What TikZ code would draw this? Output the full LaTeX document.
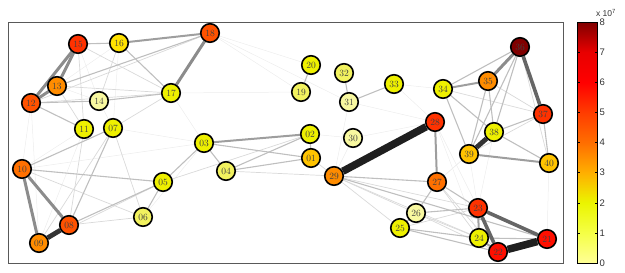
\documentclass[tikz,border=0pt]{standalone}
\usepackage{fontspec}
\newfontfamily\barfont{Liberation Sans}
\usetikzlibrary{backgrounds}

\definecolor{hLight}{RGB}{248,248,160}
\definecolor{hPale}{RGB}{242,242,95}
\definecolor{hYellow}{RGB}{238,240,0}
\definecolor{hGold}{RGB}{255,225,0}
\definecolor{hAmber}{RGB}{255,195,0}
\definecolor{hOrange}{RGB}{255,140,0}
\definecolor{hDeep}{RGB}{255,112,0}
\definecolor{hBurnt}{RGB}{255,82,0}
\definecolor{hRed}{RGB}{255,50,0}
\definecolor{hScarlet}{RGB}{255,15,0}
\definecolor{hMaroon}{RGB}{128,0,0}

\definecolor{cb0}{RGB}{255,255,150}
\definecolor{cb1}{RGB}{245,255,70}
\definecolor{cb2}{RGB}{235,245,0}
\definecolor{cb3}{RGB}{255,175,0}
\definecolor{cb4}{RGB}{255,110,0}
\definecolor{cb5}{RGB}{255,60,0}
\definecolor{cb6}{RGB}{255,0,0}
\definecolor{cb7}{RGB}{232,0,0}
\definecolor{cb8}{RGB}{128,0,0}

\begin{document}
\begin{tikzpicture}[x=1pt,y=-1pt,
  vertex/.style={circle, draw=black, line width=1.6pt, minimum size=18.5pt, inner sep=0pt,
    font=\fontsize{9.5}{10}\selectfont, text=black!75},
  edgefaint/.style={draw=black!7, line width=0.5pt},
  edgelight/.style={draw=black!15, line width=0.7pt},
  edgemid/.style={draw=black!25, line width=1.1pt},
  edgewide/.style={draw=black!38, line width=2pt},
  edgeheavy/.style={draw=black!45, line width=3pt},
  edgegrey/.style={draw=black!60, line width=3.6pt},
  edgedark/.style={draw=black!80, line width=4.8pt},
  edgeblack/.style={draw=black!88, line width=7.5pt},
  barlabel/.style={anchor=west, inner sep=0pt, font=\barfont\fontsize{9.5}{10}\selectfont, text=black!80}]
\useasboundingbox (0,0) rectangle (625,273);
\draw[black!65, line width=0.8pt] (8,22) rectangle (563,263);

\node[vertex, fill=hAmber] (n01) at (311,158) {01};
\node[vertex, fill=hYellow] (n02) at (310,134) {02};
\node[vertex, fill=hYellow] (n03) at (204,143) {03};
\node[vertex, fill=hPale] (n04) at (226,171) {04};
\node[vertex, fill=hYellow] (n05) at (163,182) {05};
\node[vertex, fill=hPale] (n06) at (143,217) {06};
\node[vertex, fill=hYellow] (n07) at (113,128) {07};
\node[vertex, fill=hBurnt] (n08) at (69,225) {08};
\node[vertex, fill=hOrange] (n09) at (39,243) {09};
\node[vertex, fill=hDeep] (n10) at (22,169) {10};
\node[vertex, fill=hYellow] (n11) at (84,129) {11};
\node[vertex, fill=hBurnt] (n12) at (31,103) {12};
\node[vertex, fill=hOrange] (n13) at (57,86) {13};
\node[vertex, fill=hLight] (n14) at (99,101) {14};
\node[vertex, fill=hRed] (n15) at (78,44) {15};
\node[vertex, fill=hGold] (n16) at (119,43) {16};
\node[vertex, fill=hYellow] (n17) at (171,93) {17};
\node[vertex, fill=hBurnt] (n18) at (210,33) {18};
\node[vertex, fill=hPale] (n19) at (301,92) {19};
\node[vertex, fill=hYellow] (n20) at (311,65) {20};
\node[vertex, fill=hScarlet] (n21) at (547,239) {21};
\node[vertex, fill=hScarlet] (n22) at (498,252) {22};
\node[vertex, fill=hRed] (n23) at (478,208) {23};
\node[vertex, fill=hYellow] (n24) at (479,238) {24};
\node[vertex, fill=hYellow] (n25) at (400,228) {25};
\node[vertex, fill=hLight] (n26) at (416,213) {26};
\node[vertex, fill=hDeep] (n27) at (437,182) {27};
\node[vertex, fill=hRed] (n28) at (435,122) {28};
\node[vertex, fill=hOrange] (n29) at (334,176) {29};
\node[vertex, fill=hLight] (n30) at (353,138) {30};
\node[vertex, fill=hLight] (n31) at (349,102) {31};
\node[vertex, fill=hPale] (n32) at (344,73) {32};
\node[vertex, fill=hYellow] (n33) at (394,84) {33};
\node[vertex, fill=hYellow] (n34) at (443,89) {34};
\node[vertex, fill=hOrange] (n35) at (488,81) {35};
\node[vertex, fill=hMaroon] (n36) at (520,47) {36};
\node[vertex, fill=hRed] (n37) at (543,114) {37};
\node[vertex, fill=hYellow] (n38) at (494,132) {38};
\node[vertex, fill=hAmber] (n39) at (469,154) {39};
\node[vertex, fill=hAmber] (n40) at (549,163) {40};

\begin{scope}[on background layer]
\foreach \a/\b in {10/03,12/10,12/09,17/19,18/20,18/19,28/31,28/33,28/30,30/29,31/29,
  28/23,28/24,38/23,39/23,40/21,02/30,14/07,16/07,15/14,13/14,11/09,11/10,03/06,07/03,
  17/03,16/13,18/31,33/34,39/27,38/27}
  \draw[edgefaint] (n\a) -- (n\b);
\foreach \a/\b in {15/11,15/17,16/14,17/07,13/11,11/08,07/09,07/06,10/06,06/08,05/09,
  13/17,12/17,12/18,29/24,29/23,29/25,29/26,27/24,27/22,25/23,26/24,26/22,37/39,35/37,
  36/40,34/37,05/02,01/29,04/29}
  \draw[edgelight] (n\a) -- (n\b);
\foreach \a/\b in {15/16,16/17,12/14,14/17,12/11,03/05,03/04,03/01,04/02,04/01,01/02,
  05/08,05/06,10/05,10/07,07/08,19/20,31/32,31/33,29/27,29/21,26/27,25/26,25/24,26/23,
  27/23,34/38,34/39,35/38,35/39,36/38,36/39,37/38,37/40,38/40,36/34,24/21,25/22,13/18}
  \draw[edgemid] (n\a) -- (n\b);
\foreach \a/\b in {27/28,02/03,39/40,34/35,23/24,24/22,16/18}
  \draw[edgewide] (n\a) -- (n\b);
\foreach \a/\b in {12/15,13/15,12/13,18/17,10/09,10/08,36/35}
  \draw[edgeheavy] (n\a) -- (n\b);
\foreach \a/\b in {36/37,23/21,23/22}
  \draw[edgegrey] (n\a) -- (n\b);
\foreach \a/\b in {08/09,38/39}
  \draw[edgedark] (n\a) -- (n\b);
\foreach \a/\b in {28/29,21/22}
  \draw[edgeblack] (n\a) -- (n\b);
\end{scope}

\foreach \lo/\cl/\ch in {0/cb0/cb1,1/cb1/cb2,2/cb2/cb3,3/cb3/cb4,4/cb4/cb5,5/cb5/cb6,6/cb6/cb7,7/cb7/cb8}
  \shade[bottom color=\cl, top color=\ch] (577,{263-30.125*\lo}) rectangle (597,{263-30.125*(\lo+1)});
\draw[black, line width=0.5pt] (577,22) rectangle (597,263);
\foreach \v in {0,...,8} {
  \draw[black, line width=0.4pt] (577,{263-30.125*\v}) -- (579.5,{263-30.125*\v});
  \draw[black, line width=0.4pt] (597,{263-30.125*\v}) -- (594.5,{263-30.125*\v});
  \node[barlabel] (tick\v) at (599.5,{263-30.125*\v}) {\v};
}
\node[font=\barfont\fontsize{8.5}{9}\selectfont, text=black!80, inner sep=0pt] (scale) at (606,13) {x 10\textsuperscript{7}};
\end{tikzpicture}
\end{document}
